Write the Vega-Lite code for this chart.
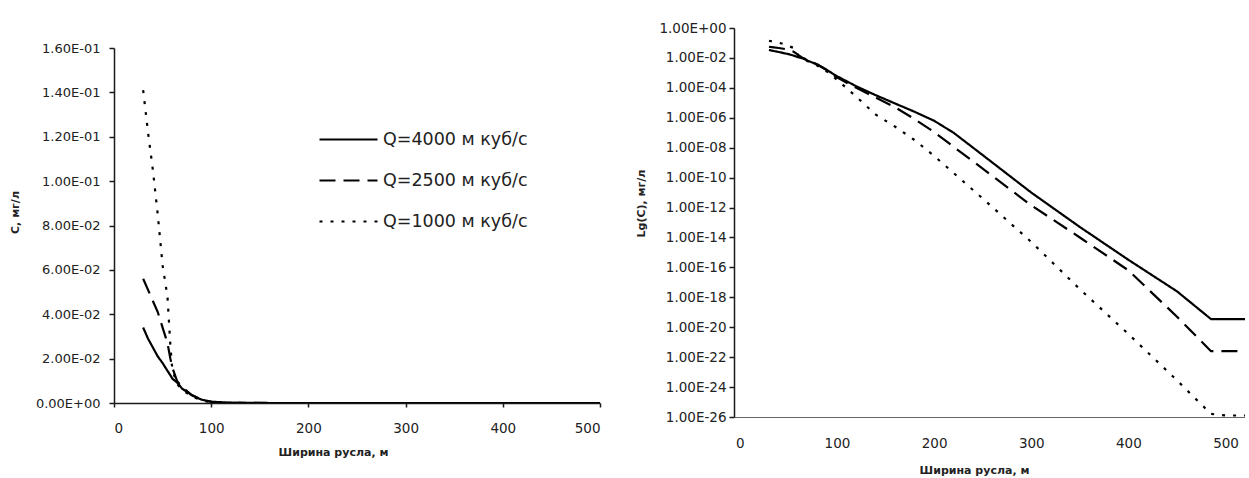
{
  "$schema": "https://vega.github.io/schema/vega-lite/v6.json",
  "background": "white",
  "padding": {"left": 9, "top": 21, "right": 0, "bottom": 0},
  "config": {
    "view": {"stroke": null},
    "font": "DejaVu Sans",
    "axis": {
      "grid": false,
      "domainColor": "#1a1a1a",
      "domainWidth": 1.5,
      "tickColor": "#1a1a1a",
      "tickWidth": 1.5,
      "labelColor": "#222222",
      "labelFont": "DejaVu Sans",
      "labelFontSize": 13.5,
      "titleFont": "DejaVu Sans",
      "titleFontSize": 11,
      "titleFontWeight": "bold",
      "titleColor": "#222222"
    }
  },
  "datasets": {
    "conc": [
      {"x": 30, "C": 0.034, "series": "Q=4000 м куб/с"},
      {"x": 35, "C": 0.029, "series": "Q=4000 м куб/с"},
      {"x": 40, "C": 0.025, "series": "Q=4000 м куб/с"},
      {"x": 45, "C": 0.021, "series": "Q=4000 м куб/с"},
      {"x": 50, "C": 0.018, "series": "Q=4000 м куб/с"},
      {"x": 55, "C": 0.0145, "series": "Q=4000 м куб/с"},
      {"x": 58, "C": 0.0125, "series": "Q=4000 м куб/с"},
      {"x": 60, "C": 0.011, "series": "Q=4000 м куб/с"},
      {"x": 65, "C": 0.0092, "series": "Q=4000 м куб/с"},
      {"x": 70, "C": 0.0065, "series": "Q=4000 м куб/с"},
      {"x": 80, "C": 0.0035, "series": "Q=4000 м куб/с"},
      {"x": 90, "C": 0.0015, "series": "Q=4000 м куб/с"},
      {"x": 100, "C": 6.0e-4, "series": "Q=4000 м куб/с"},
      {"x": 120, "C": 1.26e-4, "series": "Q=4000 м куб/с"},
      {"x": 140, "C": 3.2e-5, "series": "Q=4000 м куб/с"},
      {"x": 160, "C": 8.9e-6, "series": "Q=4000 м куб/с"},
      {"x": 180, "C": 2.5e-6, "series": "Q=4000 м куб/с"},
      {"x": 200, "C": 6.3e-7, "series": "Q=4000 м куб/с"},
      {"x": 220, "C": 1.0e-7, "series": "Q=4000 м куб/с"},
      {"x": 250, "C": 3.2e-9, "series": "Q=4000 м куб/с"},
      {"x": 300, "C": 1.0e-11, "series": "Q=4000 м куб/с"},
      {"x": 350, "C": 5.0e-14, "series": "Q=4000 м куб/с"},
      {"x": 400, "C": 3.2e-16, "series": "Q=4000 м куб/с"},
      {"x": 450, "C": 2.5e-18, "series": "Q=4000 м куб/с"},
      {"x": 485, "C": 3.5e-20, "series": "Q=4000 м куб/с"},
      {"x": 500, "C": 3.5e-20, "series": "Q=4000 м куб/с"},
      {"x": 520, "C": 3.5e-20, "series": "Q=4000 м куб/с"},

      {"x": 30, "C": 0.056, "series": "Q=2500 м куб/с"},
      {"x": 35, "C": 0.051, "series": "Q=2500 м куб/с"},
      {"x": 40, "C": 0.046, "series": "Q=2500 м куб/с"},
      {"x": 45, "C": 0.041, "series": "Q=2500 м куб/с"},
      {"x": 50, "C": 0.034, "series": "Q=2500 м куб/с"},
      {"x": 55, "C": 0.027, "series": "Q=2500 м куб/с"},
      {"x": 58, "C": 0.020, "series": "Q=2500 м куб/с"},
      {"x": 60, "C": 0.016, "series": "Q=2500 м куб/с"},
      {"x": 65, "C": 0.0098, "series": "Q=2500 м куб/с"},
      {"x": 70, "C": 0.0072, "series": "Q=2500 м куб/с"},
      {"x": 80, "C": 0.0036, "series": "Q=2500 м куб/с"},
      {"x": 90, "C": 0.0015, "series": "Q=2500 м куб/с"},
      {"x": 100, "C": 5.0e-4, "series": "Q=2500 м куб/с"},
      {"x": 120, "C": 1.0e-4, "series": "Q=2500 м куб/с"},
      {"x": 140, "C": 2.2e-5, "series": "Q=2500 м куб/с"},
      {"x": 160, "C": 5.0e-6, "series": "Q=2500 м куб/с"},
      {"x": 180, "C": 8.0e-7, "series": "Q=2500 м куб/с"},
      {"x": 200, "C": 1.1e-7, "series": "Q=2500 м куб/с"},
      {"x": 250, "C": 4.0e-10, "series": "Q=2500 м куб/с"},
      {"x": 300, "C": 1.4e-12, "series": "Q=2500 м куб/с"},
      {"x": 350, "C": 1.0e-14, "series": "Q=2500 м куб/с"},
      {"x": 400, "C": 6.3e-17, "series": "Q=2500 м куб/с"},
      {"x": 450, "C": 5.0e-20, "series": "Q=2500 м куб/с"},
      {"x": 485, "C": 2.5e-22, "series": "Q=2500 м куб/с"},
      {"x": 500, "C": 2.5e-22, "series": "Q=2500 м куб/с"},
      {"x": 520, "C": 2.5e-22, "series": "Q=2500 м куб/с"},

      {"x": 30, "C": 0.141, "series": "Q=1000 м куб/с"},
      {"x": 35, "C": 0.122, "series": "Q=1000 м куб/с"},
      {"x": 40, "C": 0.105, "series": "Q=1000 м куб/с"},
      {"x": 45, "C": 0.085, "series": "Q=1000 м куб/с"},
      {"x": 50, "C": 0.062, "series": "Q=1000 м куб/с"},
      {"x": 55, "C": 0.048, "series": "Q=1000 м куб/с"},
      {"x": 58, "C": 0.026, "series": "Q=1000 м куб/с"},
      {"x": 60, "C": 0.015, "series": "Q=1000 м куб/с"},
      {"x": 65, "C": 0.0085, "series": "Q=1000 м куб/с"},
      {"x": 70, "C": 0.006, "series": "Q=1000 м куб/с"},
      {"x": 80, "C": 0.003, "series": "Q=1000 м куб/с"},
      {"x": 90, "C": 0.0012, "series": "Q=1000 м куб/с"},
      {"x": 100, "C": 3.5e-4, "series": "Q=1000 м куб/с"},
      {"x": 120, "C": 2.5e-5, "series": "Q=1000 м куб/с"},
      {"x": 140, "C": 1.6e-6, "series": "Q=1000 м куб/с"},
      {"x": 160, "C": 2.5e-7, "series": "Q=1000 м куб/с"},
      {"x": 180, "C": 3.2e-8, "series": "Q=1000 м куб/с"},
      {"x": 200, "C": 2.8e-9, "series": "Q=1000 м куб/с"},
      {"x": 250, "C": 4.0e-12, "series": "Q=1000 м куб/с"},
      {"x": 300, "C": 5.0e-15, "series": "Q=1000 м куб/с"},
      {"x": 350, "C": 3.5e-18, "series": "Q=1000 м куб/с"},
      {"x": 400, "C": 3.5e-21, "series": "Q=1000 м куб/с"},
      {"x": 450, "C": 2.8e-24, "series": "Q=1000 м куб/с"},
      {"x": 485, "C": 1.6e-26, "series": "Q=1000 м куб/с"},
      {"x": 500, "C": 1.26e-26, "series": "Q=1000 м куб/с"},
      {"x": 520, "C": 1.26e-26, "series": "Q=1000 м куб/с"}
    ]
  },
  "concat": [
    {
      "vconcat": [
        {
          "width": 486,
          "height": 1,
          "data": {"values": []},
          "mark": {"type": "point", "opacity": 0}
        },
        {
          "width": 486,
          "height": 355,
          "data": {"name": "conc"},
          "transform": [{"filter": "datum.x <= 500"}],
          "mark": {"type": "line", "color": "black", "strokeWidth": 2.2, "clip": true},
          "encoding": {
            "x": {
              "field": "x", "type": "quantitative",
              "scale": {"domain": [0, 500], "nice": false},
              "axis": {
                "values": [0, 100, 200, 300, 400, 500],
                "title": "Ширина русла, м",
                "tickSize": 4, "labelPadding": 14, "titlePadding": 12, "titleX": 219
              }
            },
            "y": {
              "field": "C", "type": "quantitative",
              "scale": {"domain": [0, 0.16], "nice": false},
              "axis": {
                "values": [0, 0.02, 0.04, 0.06, 0.08, 0.1, 0.12, 0.14, 0.16],
                "labelExpr": "datum.value == 0 ? '0.00E+00' : datum.value < 0.095 ? format(datum.value * 100, '.2f') + 'E-02' : format(datum.value * 10, '.2f') + 'E-01'",
                "labelFontSize": 13,
                "title": "C, мг/л",
                "tickSize": 5, "labelPadding": 9,
                "titleX": -99, "titleY": 164, "titleBaseline": "middle"
              }
            },
            "strokeDash": {
              "field": "series", "type": "nominal",
              "scale": {
                "domain": ["Q=4000 м куб/с", "Q=2500 м куб/с", "Q=1000 м куб/с"],
                "range": [[1, 0], [16, 8], [3, 8]]
              },
              "legend": {
                "orient": "none", "legendX": 204, "legendY": 81,
                "title": null,
                "symbolType": "stroke", "symbolSize": 3364,
                "symbolStrokeWidth": 2.2, "symbolStrokeColor": "black",
                "labelFont": "DejaVu Sans", "labelFontSize": 17.5, "labelColor": "#222222",
                "labelOffset": 4, "rowPadding": 2
              }
            },
            "order": {"field": "x", "type": "quantitative"}
          }
        }
      ],
      "spacing": 13
    },
    {
      "width": 511,
      "height": 389,
      "data": {"name": "conc"},
      "mark": {"type": "line", "color": "black", "strokeWidth": 2.2, "clip": true},
      "encoding": {
        "x": {
          "field": "x", "type": "quantitative",
          "scale": {"domain": [-6, 520], "nice": false},
          "axis": {
            "values": [0, 100, 200, 300, 400, 500],
            "title": "Ширина русла, м",
            "ticks": false, "tickSize": 0, "labelPadding": 19,
            "domainColor": "#666666", "domainWidth": 1,
            "titlePadding": 15, "titleX": 240
          }
        },
        "y": {
          "field": "C", "type": "quantitative",
          "scale": {"type": "log", "domain": [1e-26, 1], "nice": false},
          "axis": {
            "values": [1, 1e-2, 1e-4, 1e-6, 1e-8, 1e-10, 1e-12, 1e-14, 1e-16, 1e-18, 1e-20, 1e-22, 1e-24, 1e-26],
            "labelExpr": "'1.00E' + (datum.value >= 0.5 ? '+00' : '-' + (round(-log(datum.value) / LN10) < 10 ? '0' : '') + round(-log(datum.value) / LN10))",
            "title": "Lg(C), мг/л",
            "tickSize": 5, "labelPadding": 3,
            "titleX": -93, "titleY": 175, "titleBaseline": "middle"
          }
        },
        "strokeDash": {
          "field": "series", "type": "nominal",
          "scale": {
            "domain": ["Q=4000 м куб/с", "Q=2500 м куб/с", "Q=1000 м куб/с"],
            "range": [[1, 0], [16, 8], [3, 8]]
          },
          "legend": null
        },
        "order": {"field": "x", "type": "quantitative"}
      }
    }
  ],
  "columns": 2,
  "align": "none",
  "spacing": 34
}
